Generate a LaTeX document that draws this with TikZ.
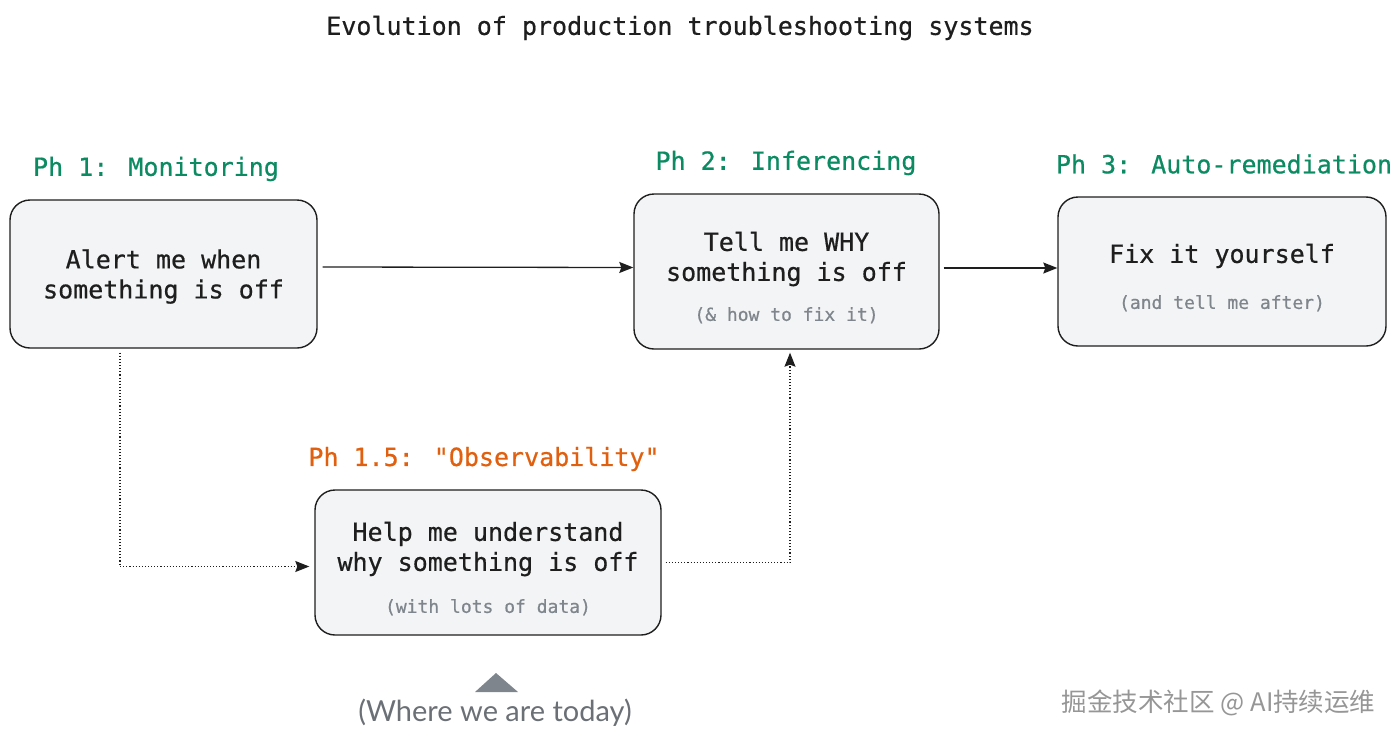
\documentclass[tikz,border=0pt]{standalone}
\usepackage{fontspec}
\setmonofont{DejaVu Sans Mono}
\newfontfamily\boxfont[FakeBold=0.6]{DejaVu Sans Mono}
\newfontfamily\handfont{Lato}
\newfontfamily\cjkfont{Noto Sans CJK SC}
\usetikzlibrary{arrows, arrows.meta}
\usetikzlibrary{calc}
\definecolor{inkdark}{HTML}{1E1E1E}
\definecolor{boxfill}{HTML}{F3F4F5}
\definecolor{phgreen}{HTML}{0C8A61}
\definecolor{phorange}{HTML}{E0600F}
\definecolor{subgray}{HTML}{7E858C}
\definecolor{handgray}{HTML}{6B7076}
\definecolor{markgray}{HTML}{969696}

\begin{document}
\begin{tikzpicture}[x=1pt, y=-1pt,
    phasebox/.style={draw=inkdark, fill=boxfill, line width=1.4pt, rounded corners=20pt, inner sep=0pt},
    boxtext/.style={align=center, text=inkdark, inner sep=0pt, font=\boxfont\fontsize{25}{30}\selectfont},
    phaselabel/.style={text=#1, font=\boxfont\fontsize{25}{30}\selectfont, inner sep=0pt},
    flow/.style={draw=inkdark, line width=1.3pt, -{Stealth[length=14pt, width=11pt, inset=2pt]}},
    dotflow/.style={flow, line width=1.1pt, dotted}]
    \useasboundingbox (0,0) rectangle (1400,739);

    \node[font=\boxfont\fontsize{25}{30}\selectfont, text=inkdark] (title) at (680,28) {Evolution of production troubleshooting systems};

    \node[phaselabel=phgreen] (l1) at (156,169) {Ph 1: Monitoring};
    \node[phaselabel=phgreen] (l2) at (786,163) {Ph 2: Inferencing};
    \node[phaselabel=phgreen] (l3) at (1224,164) {Ph 3: Auto-remediation};
    \node[phaselabel=phorange] (l4) at (484,459) {Ph 1.5: "Observability"};

    \node[phasebox, minimum width=307, minimum height=148] (b1) at (163.5,274) {};
    \node[phasebox, minimum width=305, minimum height=155] (b2) at (786.5,271.5) {};
    \node[phasebox, minimum width=328, minimum height=149] (b3) at (1222,271.5) {};
    \node[phasebox, minimum width=346, minimum height=145] (b4) at (488,562.5) {};

    \node[boxtext] (t1) at ([yshift=-2.5pt]b1.center) {Alert me when\\something is off};
    \node[boxtext] (t2) at ([yshift=-6pt]b2.center) {Tell me WHY\\something is off\\[10pt]{\color{subgray}\fontsize{18}{22}\selectfont (\& how to fix it)}};
    \node[boxtext] (t3) at ([yshift=-6pt]b3.center) {Fix it yourself\\[16pt]{\color{subgray}\fontsize{18}{22}\selectfont (and tell me after)}};
    \node[boxtext] (t4) at ([yshift=-6pt]b4.center) {Help me understand\\why something is off\\[12pt]{\color{subgray}\fontsize{18}{22}\selectfont (with lots of data)}};

    \draw[flow] ([xshift=5pt, yshift=7pt]b1.east) -- ([yshift=4pt]b2.west);
    \draw[flow] ([xshift=4pt, yshift=3.5pt]b2.east) -- ([yshift=3.5pt]b3.west);
    \draw[dotflow] ([xshift=-43.5pt, yshift=-4pt]b1.south) |- ([xshift=-5pt, yshift=-4pt]b4.west);
    \draw[dotflow] ([xshift=4pt]b4.east) -| ([xshift=3.5pt, yshift=-3pt]b2.south);

    \coordinate (tip) at (496,673);
    \fill[subgray] (tip) -- (518,692) -- (475,692) -- cycle;
    \node[text=handgray, font=\handfont\fontsize{29}{32}\selectfont] (today) at (495,713) {(Where we are today)};

    \node[text=markgray, font=\cjkfont\fontsize{25.5}{28}\selectfont, anchor=east] (mark) at (1379,703) {掘金技术社区 @ AI持续运维};
  \end{tikzpicture}
\end{document}
